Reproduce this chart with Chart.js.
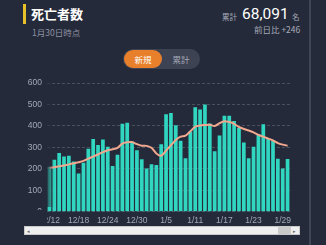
<!DOCTYPE html>
<html><head><meta charset="utf-8">
<script src="https://cdn.jsdelivr.net/npm/chart.js@4"></script>
<style>
html,body{margin:0;padding:0;background:#252a3a;width:326px;height:245px;overflow:hidden;font-family:"Noto Sans CJK JP","Noto Sans",sans-serif;}
.abs{position:absolute;white-space:nowrap;}
#ybar{left:23px;top:4px;width:3px;height:20px;background:#e8c12a;}
#title{left:31px;top:5px;font-size:13px;font-weight:bold;color:#fff;line-height:18px;}
#asof{left:32px;top:27px;font-size:8.5px;color:#8e94a3;line-height:11px;}
#totl{left:222px;top:11px;font-size:7.5px;color:#a5abb8;line-height:11px;}
#total{left:242px;top:4px;font-size:15.5px;color:#fff;line-height:20px;font-family:Roboto,"Noto Sans",sans-serif;}
#mei{left:292px;top:11px;font-size:7.5px;color:#a5abb8;line-height:11px;}
#diff{left:254px;top:24px;font-size:8.5px;color:#a5abb8;line-height:11px;}
#pill{left:123px;top:49px;width:77px;height:20px;border-radius:10px;background:#3d4353;}
#pillon{left:124px;top:50px;width:38px;height:18px;border-radius:9px;background:#e8802b;}
#t1{left:124px;top:50px;width:38px;text-align:center;font-size:8.5px;line-height:18px;color:#fff;}
#t2{left:162px;top:50px;width:38px;text-align:center;font-size:8.5px;line-height:18px;color:#a5abb8;}
#vline{left:309px;top:0;width:2px;height:245px;background:#3f4557;}
#wrap{left:0;top:70px;width:300px;height:160px;}
#clip{left:0;top:210px;width:47px;height:15px;background:#252a3a;}
#fade{left:46px;top:80px;width:8px;height:127px;background:linear-gradient(to right,rgba(37,42,58,0.85),rgba(37,42,58,0));}
#sb{left:24px;top:226px;width:274px;height:7px;background:#efefef;border:1px solid #c9c9c9;}
#thumb{left:278px;top:227px;width:13px;height:7px;background:#cacaca;}
#al{left:27px;top:227px;font-size:5px;color:#666;line-height:7px;}
#ar{left:293px;top:227px;font-size:5px;color:#666;line-height:7px;}
</style></head>
<body>
<div class="abs" id="ybar"></div>
<div class="abs" id="title">死亡者数</div>
<div class="abs" id="asof">1月30日時点</div>
<div class="abs" id="totl">累計</div>
<div class="abs" id="total">68,091</div>
<div class="abs" id="mei">名</div>
<div class="abs" id="diff">前日比 +246</div>
<div class="abs" id="pill"></div>
<div class="abs" id="pillon"></div>
<div class="abs" id="t1">新規</div>
<div class="abs" id="t2">累計</div>
<div class="abs" id="vline"></div>
<div class="abs" id="wrap"><canvas id="c" width="300" height="160"></canvas></div>
<div class="abs" id="clip"></div>
<div class="abs" id="fade"></div>
<div class="abs" id="sb"></div>
<div class="abs" id="thumb"></div>
<div class="abs" id="al">◂</div>
<div class="abs" id="ar">▸</div>
<script>
const categories = ["12/12","12/13","12/14","12/15","12/16","12/17","12/18","12/19","12/20","12/21","12/22","12/23","12/24","12/25","12/26","12/27","12/28","12/29","12/30","12/31","1/1","1/2","1/3","1/4","1/5","1/6","1/7","1/8","1/9","1/10","1/11","1/12","1/13","1/14","1/15","1/16","1/17","1/18","1/19","1/20","1/21","1/22","1/23","1/24","1/25","1/26","1/27","1/28","1/29","1/30"];
const newDeaths = [210,242,274,258,261,234,178,229,294,339,311,337,303,213,266,410,415,326,287,245,202,221,218,315,455,460,403,331,250,374,487,476,500,411,282,355,447,447,423,390,323,250,303,363,408,339,331,247,202,246];
const avg7 = [204,208,212,216,221,226,231,237,248,257,267,278,287,291,298,318,324,325,315,308,307,298,272,261,285,310,335,350,355,375,397,402,404,405,400,413,422,418,410,395,386,379,370,358,350,341,332,320,313,308];
const yTicks = {min:0,max:600,step:100};
const tickColor = "#a3a8b5";
new Chart(document.getElementById('c'), {
  data: {
    labels: categories,
    datasets: [
      {type:'line', data: avg7, borderColor:'#f2a88e', borderWidth:2, pointRadius:0, tension:0.3, order:0},
      {type:'bar', data: newDeaths, backgroundColor:'#30d6c0', categoryPercentage:1, barPercentage:0.76, order:1}
    ]
  },
  options: {
    responsive:false, animation:false,
    layout:{padding:{top:13,right:10,left:0,bottom:0}},
    plugins:{legend:{display:false},tooltip:{enabled:false}},
    scales:{
      x:{
        grid:{display:false,drawTicks:false},
        border:{display:false},
        ticks:{autoSkip:false,maxRotation:0,minRotation:0,padding:4,color:tickColor,font:{size:8.5,family:'"Liberation Sans",Arial,sans-serif'},
          callback:function(v,i){return i%6===0?categories[i]:'';}}
      },
      y:{
        min:yTicks.min,max:yTicks.max,
        ticks:{stepSize:yTicks.step,padding:5,color:tickColor,font:{size:8.5,family:'"Liberation Sans",Arial,sans-serif'}},
        grid:{color:'rgba(255,255,255,0.18)',drawTicks:false},
        border:{display:false,dash:[3,2]},
        afterFit:function(s){s.width=47;}
      }
    }
  }
});
</script>
</body></html>
